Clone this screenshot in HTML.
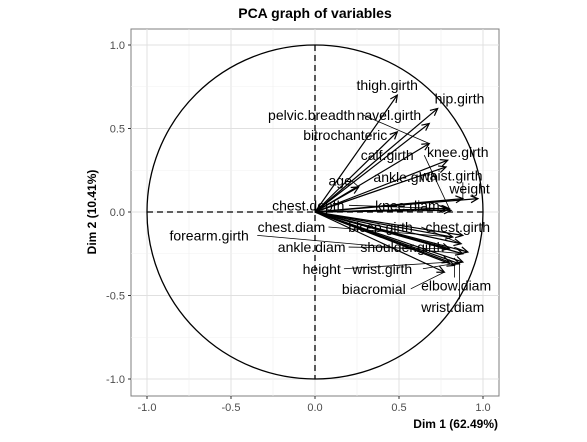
<!DOCTYPE html>
<html><head><meta charset="utf-8"><style>
body{margin:0;background:#fff}
svg{font-family:"Liberation Sans",Arial,sans-serif}
</style></head><body>
<svg id="chart" width="587" height="437">
<rect width="587" height="437" fill="#fff"/>
<g id="grid"></g>
<g id="axes"></g>
<g id="marks"></g>
<text x="315" y="18" text-anchor="middle" font-size="14" font-weight="bold">PCA graph of variables</text>
<text x="498" y="428" text-anchor="end" font-size="12" font-weight="bold">Dim 1 (62.49%)</text>
<text transform="translate(96,212) rotate(-90)" text-anchor="middle" font-size="12" font-weight="bold">Dim 2 (10.41%)</text>
</svg>
<script>
const variables=["thigh.girth","hip.girth","pelvic.breadth","navel.girth","bitrochanteric","calf.girth","knee.girth","age","ankle.girth","waist.girth","weight","chest.depth","knee.diam","forearm.girth","chest.diam","bicep.girth","chest.girth","ankle.diam","shoulder.girth","height","wrist.girth","biacromial","elbow.diam","wrist.diam"];
const dim1=[0.49,0.73,0.68,0.68,0.49,0.80,0.79,0.26,0.78,0.88,0.97,0.78,0.81,0.88,0.82,0.87,0.88,0.80,0.91,0.80,0.88,0.77,0.83,0.86];
const dim2=[0.70,0.62,0.41,0.53,0.48,0.02,0.31,0.15,0.27,0.08,0.08,0.02,0.01,-0.25,-0.15,-0.19,-0.14,-0.22,-0.24,-0.30,-0.30,-0.36,-0.32,-0.31];
const labelX=[0.43,0.86,-0.02,0.44,0.18,0.43,0.85,0.15,0.54,0.81,0.92,-0.04,0.55,-0.63,-0.14,0.39,0.85,-0.02,0.52,0.04,0.40,0.35,0.84,0.82];
const labelY=[0.76,0.68,0.58,0.58,0.46,0.34,0.36,0.19,0.21,0.22,0.14,0.04,0.04,-0.14,-0.09,-0.09,-0.09,-0.21,-0.21,-0.34,-0.34,-0.46,-0.44,-0.57];
const ticks=[-1.0,-0.5,0.0,0.5,1.0];
const tickLabels=["-1.0","-0.5","0.0","0.5","1.0"];
const NS="http://www.w3.org/2000/svg";
const X=v=>315+v*168, Y=v=>212-v*167;
function mk(tag,attrs,parent){const e=document.createElementNS(NS,tag);for(const k in attrs)e.setAttribute(k,attrs[k]);parent.appendChild(e);return e;}
const grid=document.getElementById('grid'),axes=document.getElementById('axes'),marks=document.getElementById('marks');
const panel=mk('rect',{x:131,y:29,width:368,height:367,fill:'#fff',stroke:'#7f7f7f','stroke-width':1},grid);


for(let v=-1;v<=1.001;v+=0.25){
  const major=Math.abs(v*2-Math.round(v*2))<1e-6;
  mk('line',{x1:X(v),x2:X(v),y1:29,y2:396,stroke:major?'#e0e0e0':'#f0f0f0','stroke-width':major?1:0.6},grid);
  mk('line',{x1:131,x2:499,y1:Y(v),y2:Y(v),stroke:major?'#e0e0e0':'#f0f0f0','stroke-width':major?1:0.6},grid);
}
ticks.forEach((t,i)=>{
  mk('line',{x1:X(t),x2:X(t),y1:396,y2:399,stroke:'#333'},axes);
  const tx=mk('text',{x:X(t),y:411,'text-anchor':'middle','font-size':11,fill:'#4d4d4d'},axes);tx.textContent=tickLabels[i];
  
  
  mk('line',{x1:128,x2:131,y1:Y(t),y2:Y(t),stroke:'#333'},axes);
  const ty=mk('text',{x:125,y:Y(t)+4,'text-anchor':'end','font-size':11,fill:'#4d4d4d'},axes);ty.textContent=tickLabels[i];
  
  
});
const circ=mk('ellipse',{cx:X(0),cy:Y(0),rx:168,ry:167,fill:'none',stroke:'#000','stroke-width':1.3},marks);


mk('line',{x1:X(-1),x2:X(1),y1:Y(0),y2:Y(0),stroke:'#000','stroke-dasharray':'6,4','stroke-width':1.3},marks);
mk('line',{x1:X(0),x2:X(0),y1:Y(1),y2:Y(-1),stroke:'#000','stroke-dasharray':'6,4','stroke-width':1.3},marks);
variables.forEach((name,i)=>{
  const x2=X(dim1[i]),y2=Y(dim2[i]),x1=X(0),y1=Y(0);
  const g=mk('g',{},marks);
  
  
  mk('line',{x1,y1,x2,y2,stroke:'#000','stroke-width':1.2},g);
  const a=Math.atan2(y2-y1,x2-x1),L=8,w=0.45;
  mk('polyline',{points:`${x2-L*Math.cos(a-w)},${y2-L*Math.sin(a-w)} ${x2},${y2} ${x2-L*Math.cos(a+w)},${y2-L*Math.sin(a+w)}`,fill:'none',stroke:'#000','stroke-width':1.2},g);
  const lx=X(labelX[i]),ly=Y(labelY[i]);
  const hw=name.length*3.7;
  const inX=x2>lx-hw&&x2<lx+hw;
  let ex,ey;
  if(inX){ex=x2;ey=ly+(y2>ly?7:-8);}else{ex=x2>lx?lx+hw:lx-hw;ey=ly;}
  const d=Math.hypot(ex-x2,ey-y2);
  if(d>8){
    mk('line',{x1:ex,y1:ey,x2:x2,y2:y2,stroke:'#000','stroke-width':0.8},g);
  }
  const t=mk('text',{x:lx,y:ly+5,'text-anchor':'middle','font-size':14,fill:'#000'},g);
  t.textContent=name;
  
  
});
</script>
</body></html>
